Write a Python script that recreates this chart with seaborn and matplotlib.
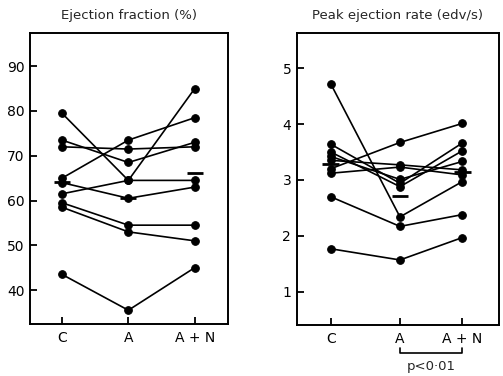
import numpy as np
import pandas as pd
import matplotlib
matplotlib.use("Agg")
import matplotlib.pyplot as plt
import seaborn as sns

# ---------------- data ----------------
conditions = ["C", "A", "A + N"]

# ejection fraction (%), one entry per subject
ef_c = [79.5, 73.5, 72.0, 65.0, 64.0, 61.5, 59.5, 58.5, 43.5]
ef_a = [64.5, 68.5, 71.5, 73.5, 60.5, 64.5, 54.5, 53.0, 35.5]
ef_an = [85.0, 73.0, 72.0, 78.5, 63.0, 64.5, 54.5, 51.0, 45.0]
ef_means = [64.2, 60.6, 66.2]

# peak ejection rate (edv/s)
per_c = [4.72, 3.64, 3.50, 3.42, 3.35, 3.12, 3.20, 2.70, 1.77]
per_a = [2.34, 2.94, 2.88, 3.01, 3.27, 3.23, 3.67, 2.17, 1.57]
per_an = [2.97, 3.66, 3.52, 3.33, 3.18, 3.09, 4.01, 2.38, 1.97]
per_means = [3.28, 2.72, 3.14]


def to_long(c, a, an, xpos):
    rows = []
    for i, vals in enumerate(zip(c, a, an)):
        for j, v in enumerate(vals):
            rows.append({"subject": i, "x": xpos[j], "value": v})
    return pd.DataFrame(rows)


sns.set_style("ticks")
plt.rcParams["font.family"] = ["DejaVu Sans"]

fig = plt.figure(figsize=(5.03, 3.76), dpi=100)
ax1 = fig.add_axes([0.060, 0.138, 0.393, 0.774])
ax2 = fig.add_axes([0.590, 0.136, 0.402, 0.776])

xpos_left = [0, 1, 2]
xpos_right = [0, 1, 1.9]

panels = [
    (ax1, to_long(ef_c, ef_a, ef_an, xpos_left), xpos_left, ef_means,
     "Ejection fraction (%)", (32.4, 97.4), [40, 50, 60, 70, 80, 90], (-0.48, 2.5)),
    (ax2, to_long(per_c, per_a, per_an, xpos_right), xpos_right, per_means,
     "Peak ejection rate (edv/s)", (0.41, 5.625), [1, 2, 3, 4, 5], (-0.49, 2.43)),
]

for ax, df, xpos, means, title, ylim, yticks, xlim in panels:
    sns.lineplot(data=df, x="x", y="value", units="subject", estimator=None,
                 color="black", lw=1.2, marker="o", markersize=5.5,
                 markeredgecolor="black", ax=ax)
    # group mean bars
    ax.hlines(means, [p - 0.12 for p in xpos], [p + 0.12 for p in xpos],
              color="black", lw=2)
    ax.set_xlim(*xlim)
    ax.set_ylim(*ylim)
    ax.set_xticks(xpos)
    ax.set_xticklabels(conditions)
    ax.set_yticks(yticks)
    ax.set_xlabel("")
    ax.set_ylabel("")
    ax.tick_params(direction="in", length=5, width=1.3, labelsize=10, pad=4,
                   colors="black")
    ax.tick_params(axis="x", pad=5)
    for s in ax.spines.values():
        s.set_visible(True)
        s.set_linewidth(1.4)
        s.set_color("black")
    ax.set_title(title, fontsize=9.5, pad=10)

# significance bracket between A and A + N, below the tick labels
ax2.plot([xpos_right[1], xpos_right[1], xpos_right[2], xpos_right[2]],
         [0.0, -0.09, -0.09, 0.0], color="black", lw=1.2, clip_on=False)
ax2.text((xpos_right[1] + xpos_right[2]) / 2, -0.22, "p<0·01",
         ha="center", va="top", fontsize=9.5)

fig.savefig("out.png", dpi=100)
